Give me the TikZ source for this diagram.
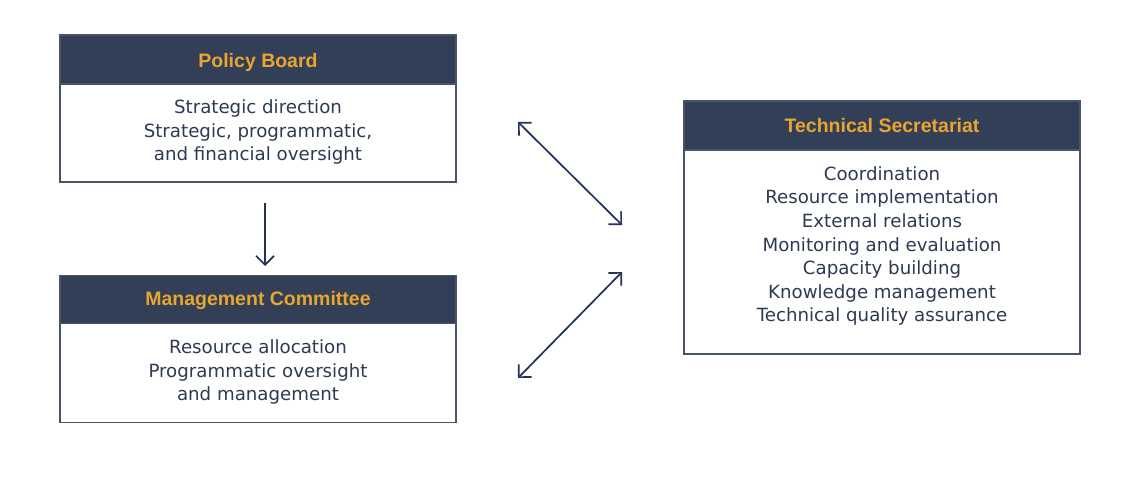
\documentclass[tikz,border=0pt]{standalone}
\usepackage{fontspec}
\setmainfont{DejaVu Sans}
\newfontfamily\titlefont{Liberation Sans}
\usetikzlibrary{arrows.meta,positioning}
\definecolor{navy}{HTML}{323F57}
\definecolor{gold}{HTML}{E8A52F}
\definecolor{txt}{HTML}{2E3A52}
\definecolor{edge}{HTML}{4A5468}
\definecolor{arr}{HTML}{25305A}
\tikzset{
  head/.style={rectangle, fill=navy, draw=edge, line width=1.6pt, minimum width=396pt, inner sep=0pt, anchor=north},
  title/.style={text=gold, inner sep=0pt, anchor=base, font=\titlefont\fontsize{19.5}{22}\selectfont\bfseries},
  body/.style={rectangle, fill=white, draw=edge, line width=1.6pt, minimum width=396pt, inner sep=0pt, anchor=north},
  bodytext/.style={text=txt, align=center, inner sep=0pt, font=\fontsize{18.2}{23.6}\selectfont},
  conn/.style={draw=arr, line width=1.7pt, {Straight Barb[length=9pt,width=18pt]}-{Straight Barb[length=9pt,width=18pt]}},
  conn1/.style={draw=arr, line width=1.7pt, -{Straight Barb[length=9pt,width=18pt]}}
}
\begin{document}
\begin{tikzpicture}[x=1pt,y=-1pt]
\useasboundingbox (0,0) rectangle (1129,484);
% Policy Board
\node[head, minimum height=49pt] (pbh) at (258,34) {};
\node[title] (pbti) at (258,67.5) {Policy Board};
\node[body, minimum height=98pt] (pbb) at (258,83) {};
\node[bodytext] (pbt) at (258,132) {Strategic direction\\Strategic, programmatic,\\and financial oversight};
% Management Committee
\node[head, minimum height=48pt] (mch) at (258,274.5) {};
\node[title] (mcti) at (258,305.7) {Management Committee};
\node[body, minimum height=99pt] (mcb) at (258,322.5) {};
\node[bodytext] (mct) at (258,372) {Resource allocation\\Programmatic oversight\\and management};
% Technical Secretariat
\node[head, minimum height=49pt] (tsh) at (882,100) {};
\node[title] (tsti) at (882,132.3) {Technical Secretariat};
\node[body, minimum height=204pt] (tsb) at (882,149) {};
\node[bodytext] (tst) at (882,246) {Coordination\\Resource implementation\\External relations\\Monitoring and evaluation\\Capacity building\\Knowledge management\\Technical quality assurance};
% connectors
\draw[conn1] ([xshift=7pt,yshift=-20pt]pbb.south) -- ([xshift=7pt,yshift=8.5pt]mch.north);
\coordinate (a1) at (518,122);
\coordinate (a2) at (622,225);
\coordinate (b1) at (622,272);
\coordinate (b2) at (518,378);
\draw[conn] (a1) -- (a2);
\draw[conn] (b1) -- (b2);
\end{tikzpicture}
\end{document}
